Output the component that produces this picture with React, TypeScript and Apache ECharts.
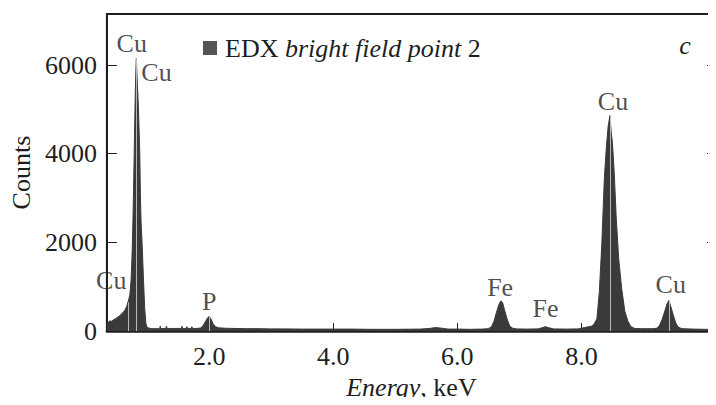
import React, { useEffect, useRef } from "react";
import * as echarts from "echarts";

const energyKeV = [
  0.35, 0.37, 0.4, 0.43, 0.46, 0.49, 0.52, 0.55, 0.58, 0.61, 0.64, 0.67, 0.7, 0.72, 0.74, 0.75, 0.76, 0.77, 0.78, 0.79,
  0.8, 0.81, 0.82, 0.825, 0.83, 0.84, 0.85, 0.86, 0.87, 0.88, 0.89, 0.9, 0.92, 0.94, 0.96, 0.98, 1.0, 1.05, 1.1, 1.2,
  1.21, 1.22, 1.3, 1.31, 1.32, 1.45, 1.55, 1.56, 1.57, 1.63, 1.64, 1.65, 1.71, 1.72, 1.73, 1.8, 1.86, 1.9, 1.94, 1.98,
  2.0, 2.03, 2.06, 2.1, 2.15, 2.25, 2.4, 2.6, 2.8, 3.0, 3.2, 3.5, 3.8, 4.0, 4.3, 4.6, 5.0, 5.4, 5.55, 5.65,
  5.75, 5.85, 6.0, 6.2, 6.4, 6.5, 6.55, 6.59, 6.63, 6.67, 6.7, 6.73, 6.76, 6.8, 6.84, 6.88, 6.95, 7.1, 7.3, 7.38,
  7.42, 7.46, 7.55, 7.75, 7.95, 8.05, 8.12, 8.16, 8.2, 8.25, 8.29, 8.33, 8.37, 8.4, 8.43, 8.46, 8.48, 8.5, 8.53, 8.56,
  8.6, 8.65, 8.7, 8.75, 8.8, 8.86, 8.95, 9.05, 9.15, 9.22, 9.26, 9.3, 9.34, 9.38, 9.41, 9.44, 9.48, 9.52, 9.56, 9.62,
  9.8, 10.0, 10.17,
];
const counts = [
  140, 200, 230, 220, 260, 280, 310, 340, 380, 420, 470, 560, 700, 820, 1150, 1500, 1900, 2500, 3200, 4000,
  4800, 5500, 6000, 6150, 5950, 5600, 5300, 4950, 4500, 4000, 3100, 2500, 1900, 1150, 500, 160, 80, 60, 55, 55,
  110, 55, 60, 110, 60, 60, 60, 110, 60, 60, 100, 60, 60, 100, 60, 60, 70, 120, 220, 310,
  330, 270, 170, 100, 75, 65, 60, 55, 55, 50, 50, 45, 45, 45, 45, 40, 40, 45, 60, 80,
  65, 45, 45, 40, 45, 55, 100, 220, 420, 600, 680, 640, 480, 280, 130, 70, 50, 45, 50, 80,
  100, 80, 50, 45, 50, 80, 100, 110, 150, 280, 900, 2000, 3450, 4100, 4600, 4860, 4500, 4250, 3550, 2600,
  1650, 950, 450, 220, 100, 60, 55, 55, 55, 65, 130, 260, 430, 610, 690, 560, 370, 190, 90, 55,
  45, 40, 40,
];

const markerEnergies = [0.69, 0.825, 2.0, 8.46, 9.41];
const markerHeights = [650, 6150, 330, 4860, 690];

const peakLabelNames = ["Cu", "Cu", "Cu", "P", "Fe", "Fe", "Cu", "Cu"];
const peakLabelEnergies = [0.75, 1.15, 0.42, 2.0, 6.69, 7.42, 8.51, 9.44];
const peakLabelCounts = [6480, 5820, 1150, 660, 985, 505, 5180, 1040];

const xTickValues = [2, 4, 6, 8];
const yTickInterval = 2000;
const seriesName = "EDX bright field point 2";

const FONT = "Liberation Serif";
const INK = "#1e1e1e";

export default function App() {
  const ref = useRef<HTMLDivElement>(null);
  useEffect(() => {
    if (!ref.current) return;
    const chart = echarts.init(ref.current, undefined, { renderer: "svg" });
    const spectrum = energyKeV.map((e, i) => [e, counts[i]]);
    const markers = markerEnergies.map((e, i) => [
      { coord: [e, 0] },
      { coord: [e, markerHeights[i]] },
    ]);
    const labels = peakLabelNames.map((n, i) => ({
      name: n,
      value: [peakLabelEnergies[i], peakLabelCounts[i]],
    }));
    const txt = { fontFamily: FONT, fontSize: 26, color: INK };
    chart.setOption({
      animation: false,
      textStyle: { fontFamily: FONT },
      grid: { left: 103, right: -2, top: 14, bottom: 65, show: true, borderColor: INK, borderWidth: 2 },
      legend: {
        data: [seriesName],
        left: 198,
        top: 30,
        icon: "rect",
        itemWidth: 14,
        itemHeight: 14,
        formatter: () => "{a|EDX }{i|bright field point}{n| 2}",
        textStyle: {
          ...txt,
          rich: {
            a: { ...txt, padding: [0, 0, 0, 3] },
            i: { ...txt, fontStyle: "italic" },
            n: { ...txt },
          },
        },
      },
      xAxis: {
        type: "value",
        min: 0.35,
        max: 10.17,
        name: "{i|Energy}, keV",
        nameLocation: "middle",
        nameGap: 38,
        nameTextStyle: { ...txt, rich: { i: { ...txt, fontStyle: "italic" } } },
        axisLine: { show: true, onZero: false, lineStyle: { color: INK, width: 2.5 } },
        axisTick: { show: true, inside: true, length: 8, customValues: xTickValues, lineStyle: { color: INK, width: 1 } },
        axisLabel: {
          ...txt,
          customValues: xTickValues,
          formatter: (v: number) => v.toFixed(1),
          margin: 12,
        },
        splitLine: { show: false },
      },
      yAxis: [
        {
          type: "value",
          min: 0,
          max: 7150,
          interval: yTickInterval,
          name: "Counts",
          nameLocation: "middle",
          nameGap: 70,
          nameTextStyle: { ...txt },
          axisLine: { show: true, lineStyle: { color: INK, width: 2 } },
          axisTick: { show: true, inside: true, length: 10, lineStyle: { color: INK, width: 1 } },
          axisLabel: { ...txt, margin: 10, showMaxLabel: false, formatter: (v: number) => String(v) },
          splitLine: { show: false },
        },
        {
          type: "value",
          position: "right",
          min: 0,
          max: 7150,
          interval: yTickInterval,
          axisLine: { show: false },
          axisTick: { show: true, inside: true, length: 9, lineStyle: { color: INK, width: 1 } },
          axisLabel: { show: false },
          splitLine: { show: false },
        },
      ],
      series: [
        {
          name: seriesName,
          type: "line",
          data: spectrum,
          showSymbol: false,
          symbol: "none",
          color: "#555",
          lineStyle: { color: "#3a3a3a", width: 1 },
          areaStyle: { color: "#3a3a3a", opacity: 1 },
          markLine: {
            silent: true,
            symbol: ["none", "none"],
            label: { show: false },
            lineStyle: { color: "#b8b8b8", width: 1, type: "solid" },
            data: markers,
          },
          z: 2,
        },
        {
          name: "labels",
          type: "scatter",
          data: labels,
          symbolSize: 1,
          itemStyle: { color: "rgba(0,0,0,0)" },
          label: {
            ...txt,
            show: true,
            position: "inside",
            formatter: (p: any) => p.name,
          },
          silent: true,
          z: 5,
        },
      ],
      graphic: [
        {
          type: "text",
          x: 685,
          y: 45,
          style: {
            text: "c",
            fontFamily: FONT,
            fontSize: 26,
            fontStyle: "italic",
            fill: INK,
            align: "center",
            verticalAlign: "middle",
          },
        },
      ],
    });
    return () => chart.dispose();
  }, []);
  return <div ref={ref} style={{ width: 716, height: 405, margin: -8 }} />;
}
